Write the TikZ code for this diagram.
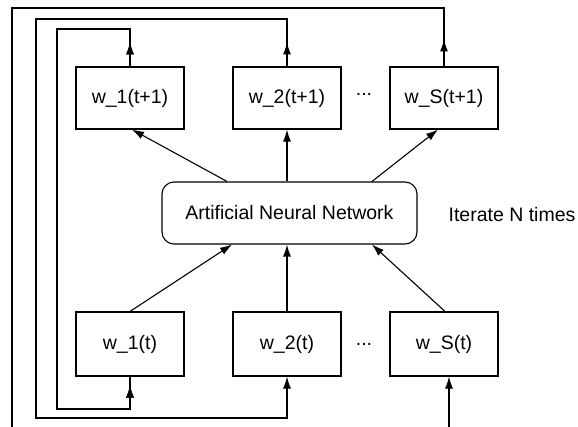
\documentclass[tikz,border=0pt]{standalone}
\usepackage{fontspec}
\setmainfont{Liberation Sans}
\usetikzlibrary{arrows.meta,decorations.markings}
\begin{document}
\begin{tikzpicture}[x=1pt,y=-1pt,line width=1.1pt,
  lbl/.style={font=\fontsize{19.5}{22}\selectfont},
  wbox/.style={lbl,draw,minimum width=108pt,minimum height=62pt,inner sep=0pt},
  netbox/.style={lbl,draw,rounded corners=12pt,minimum width=255pt,minimum height=62pt,inner sep=0pt},
  tip/.style={-{Latex[length=12pt,width=8pt]}},
  feedback/.style={postaction={decorate},decoration={markings,
    mark=at position #1 with {\arrow{Latex[length=12pt,width=8pt]}}}},
]
\useasboundingbox (0,0) rectangle (578,427);

% weight boxes at step t+1 (top) and t (bottom)
\node[wbox] (w1u) at (130,98) {w\_1(t+1)};
\node[wbox] (w2u) at (287,98) {w\_2(t+1)};
\node[wbox] (wSu) at (444,98) {w\_S(t+1)};
\node[wbox,minimum height=64pt] (w1d) at (130,344) {w\_1(t)};
\node[wbox,minimum height=64pt] (w2d) at (287,344) {w\_2(t)};
\node[wbox,minimum height=64pt] (wSd) at (444,344) {w\_S(t)};
\node[lbl,anchor=base] (dotu) at (364,96) {...};
\node[lbl,anchor=base] (dotd) at (364,345) {...};

% the network and the iteration note
\node[netbox] (ann) at (289.5,213) {Artificial Neural Network};
\node[lbl] (iter) at (512,215) {Iterate N times};

% inputs into the network
\draw[tip] (w1d.north) -- ([xshift=-57.5pt]ann.south);
\draw[tip] (w2d.north) -- ([xshift=-2.5pt]ann.south);
\draw[tip] ([xshift=1pt]wSd.north) -- ([xshift=82.5pt]ann.south);

% outputs of the network
\draw[tip] ([xshift=-62.5pt]ann.north) -- ([xshift=2pt]w1u.south);
\draw[tip] ([xshift=-2.5pt]ann.north) -- (w2u.south);
\draw[tip] ([xshift=82.5pt]ann.north) -- ([xshift=-6pt]wSu.south);

% feedback loops from t+1 back to t
\coordinate (i1) at (130,29);  \coordinate (i2) at (57,29);
\coordinate (i3) at (57,409);  \coordinate (i4) at (130,409);
\draw[feedback=24pt,postaction={decorate},decoration={markings,
    mark=at position -9pt with {\arrow{Latex[length=12pt,width=8pt]}}}]
  (w1u.north) -- (i1) -- (i2) -- (i3) -- (i4) -- (w1d.south);

\coordinate (m1) at (287,19);  \coordinate (m2) at (36,19);
\coordinate (m3) at (36,418);  \coordinate (m4) at (287,418);
\draw[feedback=24pt,tip] (w2u.north) -- (m1) -- (m2) -- (m3) -- (m4) -- (w2d.south);

\coordinate (o1) at (444,8);   \coordinate (o2) at (12,8);
\coordinate (o3) at (12,427);  \coordinate (o4) at (449,427);
\draw[feedback=27pt] (wSu.north) -- (o1) -- (o2) -- (o3);
\draw[tip] (o4) -- (o4 |- wSd.south);
\end{tikzpicture}
\end{document}
